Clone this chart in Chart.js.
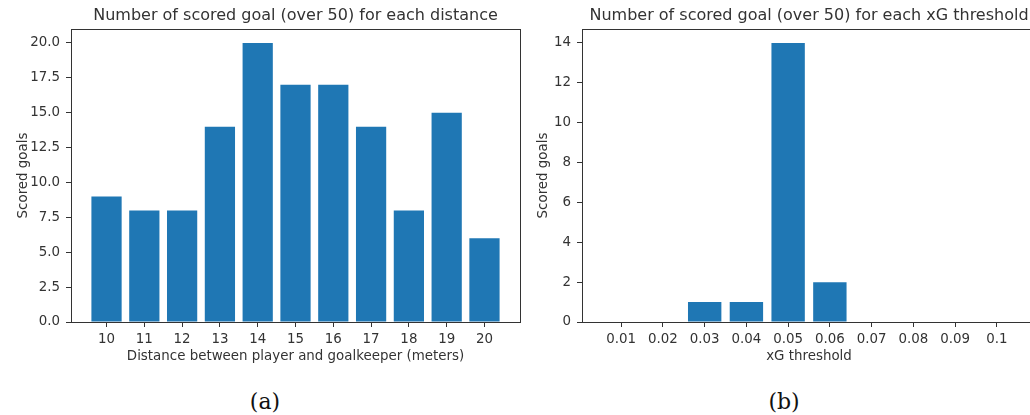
<!DOCTYPE html>
<html>
<head>
<meta charset="utf-8">
<script src="https://cdn.jsdelivr.net/npm/chart.js@4.4.0/dist/chart.umd.min.js"></script>
<style>
  html, body { margin: 0; padding: 0; background: #fff; width: 1030px; height: 415px; overflow: hidden; position: relative; }
  canvas { position: absolute; top: 0; }
  .cap { position: absolute; font-family: "DejaVu Serif", serif; font-size: 22px; line-height: 22px; color: #111; transform: translateX(-50%); white-space: nowrap; }
</style>
</head>
<body>
<canvas id="c1" width="530" height="370" style="left:0px"></canvas>
<canvas id="c2" width="525" height="370" style="left:525px"></canvas>
<div class="cap" style="left:265px; top:391px">(a)</div>
<div class="cap" style="left:784px; top:391px">(b)</div>
<script>
// ---- data ----
const distanceLabels = ['10','11','12','13','14','15','16','17','18','19','20'];
const distanceGoals = [9, 8, 8, 14, 20, 17, 17, 14, 8, 15, 6];
const xgLabels = ['0.01','0.02','0.03','0.04','0.05','0.06','0.07','0.08','0.09','0.1'];
const xgGoals = [0, 0, 1, 1, 14, 2, 0, 0, 0, 0];
const distanceYTicks = [0, 2.5, 5, 7.5, 10, 12.5, 15, 17.5, 20];
const xgYTicks = [0, 2, 4, 6, 8, 10, 12, 14];

Chart.defaults.font.family = '"DejaVu Sans", sans-serif';
Chart.defaults.color = '#333';

const TXT = '#333';
const BAR = '#1f77b4';
const FS = 13.4;

const boxPlugin = {
  id: 'box',
  afterDatasetsDraw(chart) {
    const {ctx, chartArea: a} = chart;
    ctx.save();
    ctx.strokeStyle = TXT;
    ctx.lineWidth = 1;
    ctx.strokeRect(Math.round(a.left) + 0.5, Math.round(a.top) + 0.5, Math.round(a.right - a.left), Math.round(a.bottom - a.top));
    ctx.restore();
  }
};

function makeChart(id, cfg) {
  const n = cfg.labels.length;
  return new Chart(document.getElementById(id), {
    type: 'bar',
    data: {
      datasets: [{
        data: cfg.values.map((v, i) => ({x: i, y: v})),
        backgroundColor: BAR,
        borderWidth: 0,
        barPercentage: 0.8,
        categoryPercentage: 1.0
      }]
    },
    plugins: [boxPlugin],
    options: {
      responsive: false,
      animation: false,
      devicePixelRatio: 1,
      layout: { padding: { left: 0, right: cfg.padRight, top: 0, bottom: 0 } },
      plugins: {
        legend: { display: false },
        tooltip: { enabled: false },
        title: {
          display: true,
          text: cfg.title,
          fullSize: false,
          color: TXT,
          font: { size: 16, weight: 'normal' },
          padding: { top: 6, bottom: 3.8 }
        }
      },
      scales: {
        x: {
          type: 'linear',
          offset: false,
          min: -0.94,
          max: n - 1 + 0.94,
          afterFit(s) { s.height = 48; },
          afterBuildTicks(s) { s.ticks = cfg.labels.map((l, i) => ({value: i})); },
          ticks: {
            stepSize: 1, includeBounds: false, autoSkip: false, maxRotation: 0,
            padding: 4, color: TXT, font: { size: FS },
            callback: (v) => cfg.labels[Math.round(v)]
          },
          grid: { offset: false, drawOnChartArea: false, drawTicks: true, tickLength: 5, color: TXT, lineWidth: 1 },
          border: { display: false },
          title: { display: true, text: cfg.xTitle, color: TXT, font: { size: FS }, padding: { top: 0, bottom: 5 } }
        },
        y: {
          type: 'linear',
          min: 0,
          max: cfg.yMax,
          afterFit(s) { s.width = cfg.yWidth; },
          afterBuildTicks(s) { s.ticks = cfg.yTicks.map(v => ({value: v})); },
          ticks: {
            padding: 6, color: TXT, font: { size: FS },
            callback: (v) => cfg.yFmt(v)
          },
          grid: { drawOnChartArea: false, drawTicks: true, tickLength: 5, color: TXT, lineWidth: 1 },
          border: { display: false },
          title: { display: true, text: 'Scored goals', color: TXT, font: { size: FS }, padding: { top: cfg.yTitlePad, bottom: 0 } }
        }
      }
    }
  });
}

makeChart('c1', {
  labels: distanceLabels, values: distanceGoals, yTicks: distanceYTicks,
  yMax: 21, yWidth: 71, padRight: 10, yTitlePad: 15,
  yFmt: v => v.toFixed(1),
  title: 'Number of scored goal (over 50) for each distance',
  xTitle: 'Distance between player and goalkeeper (meters)'
});
makeChart('c2', {
  labels: xgLabels, values: xgGoals, yTicks: xgYTicks,
  yMax: 14.7, yWidth: 57, padRight: 14, yTitlePad: 10.5,
  yFmt: v => String(v),
  title: 'Number of scored goal (over 50) for each xG threshold',
  xTitle: 'xG threshold'
});
</script>
</body>
</html>
